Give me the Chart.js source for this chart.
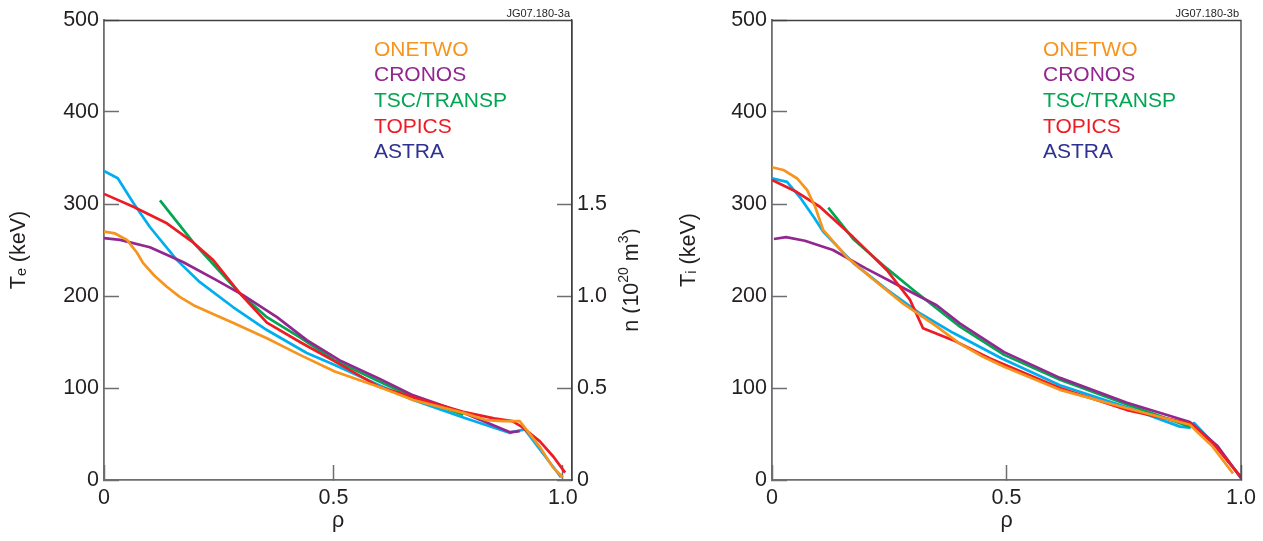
<!DOCTYPE html>
<html><head><meta charset="utf-8">
<script src="https://cdn.jsdelivr.net/npm/chart.js@4.4.1/dist/chart.umd.min.js"></script>
<style>
html,body{margin:0;padding:0;background:#fff;overflow:hidden}
#wrap{position:relative;width:1263px;height:541px;background:#fff}
canvas{position:absolute;top:0}
#c1{left:0}
#c2{left:640px}
</style></head><body>
<div id="wrap"><canvas id="c1" width="640" height="541"></canvas><canvas id="c2" width="623" height="541"></canvas></div>
<script>
// ---------- data ----------
const seriesNames = ['ONETWO', 'CRONOS', 'TSC/TRANSP', 'TOPICS', 'ASTRA'];
const xTickValues = [0, 0.5, 1.0];
const tTickValues = [0, 100, 200, 300, 400, 500];
const nTickValues = [0, 0.5, 1.0, 1.5];

// (a) electron temperature
const rhoOnetwoE = [0, 0.024, 0.05, 0.072, 0.085, 0.11, 0.137, 0.165, 0.195, 0.24, 0.281, 0.355, 0.427, 0.503, 0.6, 0.674, 0.783, 0.834, 0.87, 0.906, 0.95, 0.978, 1.0];
const teOnetwo   = [270, 268, 261, 247, 236, 222, 210, 199, 190, 180, 171, 154, 136, 118, 101, 87, 73, 65, 64, 64, 36, 14, 3];
const rhoCronosE = [0, 0.035, 0.1, 0.172, 0.246, 0.303, 0.377, 0.442, 0.514, 0.6, 0.674, 0.783, 0.885, 0.906];
const teCronos   = [263, 261, 253, 237, 217, 201, 177, 152, 130, 110, 92, 73, 52, 53];
const rhoTscE    = [0.122, 0.16, 0.195, 0.25, 0.296, 0.355, 0.427, 0.503, 0.6, 0.674, 0.783];
const teTsc      = [304, 280, 258, 228, 203, 177, 155, 130, 107, 90, 71];
const rhoTopicsE = [0, 0.064, 0.137, 0.195, 0.238, 0.296, 0.355, 0.427, 0.499, 0.601, 0.7, 0.783, 0.85, 0.89, 0.91, 0.95, 0.98, 1.005];
const teTopics   = [311, 297, 279, 258, 239, 203, 171, 150, 130, 101, 86, 74, 67, 64, 58, 42, 25, 8];
const rhoAstraE  = [0, 0.03, 0.064, 0.1, 0.159, 0.209, 0.281, 0.355, 0.442, 0.503, 0.6, 0.674, 0.783, 0.885, 0.89, 0.917, 0.996];
const teAstra    = [336, 328, 301, 275, 239, 215, 188, 163, 138, 125, 103, 87, 68, 51, 52, 55, 3];

// (b) ion temperature
const rhoOnetwoI = [0, 0.024, 0.053, 0.075, 0.092, 0.109, 0.16, 0.209, 0.279, 0.351, 0.401, 0.45, 0.495, 0.614, 0.757, 0.891, 0.94, 0.983];
const tiOnetwo   = [340, 337, 328, 315, 297, 272, 242, 221, 192, 167, 148, 134, 123, 98, 78, 60, 36, 7];
const rhoCronosI = [0.004, 0.03, 0.07, 0.13, 0.2, 0.279, 0.351, 0.401, 0.495, 0.614, 0.757, 0.891, 0.95, 1.0];
const tiCronos   = [262, 264, 260, 250, 230, 209, 190, 170, 139, 111, 84, 63, 37, 2];
const rhoTscI    = [0.12, 0.173, 0.245, 0.3, 0.4, 0.495, 0.614, 0.757, 0.891];
const tiTsc      = [296, 262, 230, 207, 167, 136, 109, 82, 58];
const rhoTopicsI = [0, 0.053, 0.102, 0.173, 0.245, 0.294, 0.322, 0.386, 0.465, 0.614, 0.757, 0.895, 0.94, 1.0];
const tiTopics   = [326, 313, 297, 264, 228, 196, 165, 152, 132, 100, 76, 61, 40, 3];
const rhoAstraI  = [0, 0.032, 0.06, 0.09, 0.109, 0.173, 0.245, 0.316, 0.386, 0.49, 0.614, 0.757, 0.87, 0.891, 0.9, 0.95, 1.0];
const tiAstra    = [328, 324, 307, 285, 270, 236, 207, 181, 160, 132, 103, 79, 58, 57, 62, 35, 3];

// ---------- styles ----------
const lineColors   = ['#f7941d', '#92278f', '#00a651', '#ed1c24', '#00aeef'];
const legendColors = ['#f7941d', '#92278f', '#00a651', '#ed1c24', '#2e3192'];
const FONT = "'Liberation Sans', Arial, Helvetica, sans-serif";
const TXT = '#231f20';
const AX = '#6d6e71';
const FS = 21.5;

function pts(xs, ys) { return xs.map((x, i) => ({x: x, y: ys[i]})); }
function makeSets(list) {
  const drawOrder = [0, 2, 3, 1, 4];
  return list.map((p, i) => ({
    label: seriesNames[i], data: p, borderColor: lineColors[i], backgroundColor: lineColors[i],
    borderWidth: 2.7, pointRadius: 0, fill: false, showLine: true, yAxisID: 'y',
    tension: 0, borderJoinStyle: 'round', borderCapStyle: 'butt', order: drawOrder[i]
  }));
}

const decor = {
  id: 'decor',
  afterDraw(chart, args, o) {
    const ctx = chart.ctx, a = chart.chartArea;
    ctx.save();
    ctx.strokeStyle = '#414042'; ctx.lineWidth = 1.3;
    ctx.beginPath();
    ctx.moveTo(a.left, a.top + 0.5); ctx.lineTo(a.right, a.top + 0.5);
    ctx.lineTo(a.right, a.bottom);
    ctx.stroke();
    ctx.fillStyle = TXT; ctx.font = '11px ' + FONT; ctx.textAlign = 'right'; ctx.textBaseline = 'middle';
    ctx.fillText(o.tag, a.right - 2, 14);
    ctx.font = '21px ' + FONT; ctx.textAlign = 'left';
    seriesNames.forEach((s, i) => { ctx.fillStyle = legendColors[i]; ctx.fillText(s, o.lx, o.ly + i * o.ldy); });
    if (o.rightTitle) {
      ctx.translate(o.rtx, o.rty); ctx.rotate(-Math.PI / 2);
      const parts = [['n (10', 0], ['20', 1], [' m', 0], ['3', 1], [')', 0]];
      const big = FS + 'px ' + FONT, small = '14px ' + FONT;
      let w = 0;
      parts.forEach(p => { ctx.font = p[1] ? small : big; w += ctx.measureText(p[0]).width; });
      let x = -w / 2;
      ctx.fillStyle = TXT; ctx.textBaseline = 'middle';
      parts.forEach(p => {
        ctx.font = p[1] ? small : big;
        ctx.fillText(p[0], x, p[1] ? -7.5 : 0);
        x += ctx.measureText(p[0]).width;
      });
    }
    ctx.restore();
  }
};

function fmtX(v) { return v === 0 ? '0' : v.toFixed(1); }
function fmtN(v) { return v === 0 ? '0' : v.toFixed(1); }
function fixV(w) { return s => { s.width = w; s.paddingTop = 0; s.paddingBottom = 0; }; }
function fixH(h) { return s => { s.height = h; s.paddingLeft = 0; s.paddingRight = 0; }; }

function baseOptions(cfg) {
  const tickFont = {family: FONT, size: FS};
  const scales = {
    x: {
      type: 'linear', position: 'bottom', min: 0, max: cfg.xmax,
      afterBuildTicks: s => { s.ticks = xTickValues.map(v => ({value: v})); },
      afterFit: fixH(61),
      ticks: {autoSkip: false, maxRotation: 0, padding: 20, font: tickFont, color: TXT, callback: fmtX},
      grid: {drawOnChartArea: false, tickLength: -15, tickWidth: 1.5, tickColor: AX},
      border: {color: AX, width: 1.8},
      title: {display: true, text: 'ρ', font: {family: FONT, size: FS}, color: TXT, padding: {top: 0, bottom: 7}}
    },
    y: {
      type: 'linear', position: 'left', min: 0, max: 500,
      afterBuildTicks: s => { s.ticks = tTickValues.map(v => ({value: v})); },
      afterFit: fixV(cfg.yw),
      ticks: {autoSkip: false, padding: 20, font: tickFont, color: TXT, callback: v => String(v)},
      grid: {drawOnChartArea: false, tickLength: -15, tickWidth: 1.5, tickColor: AX},
      border: {color: AX, width: 1.8},
      title: {display: true, text: cfg.ytitle, font: {family: FONT, size: FS}, color: TXT, padding: {top: cfg.ytp, bottom: 0}}
    }
  };
  if (cfg.right) {
    scales.y2 = {
      type: 'linear', position: 'right', min: 0, max: 2.5,
      afterBuildTicks: s => { s.ticks = nTickValues.map(v => ({value: v})); },
      afterFit: fixV(68),
      ticks: {autoSkip: false, padding: 20, font: tickFont, color: TXT, callback: fmtN},
      grid: {drawOnChartArea: false, tickLength: -15, tickWidth: 1.5, tickColor: AX},
      border: {color: '#414042', width: 1.3}
    };
  }
  return {
    responsive: false, animation: false, devicePixelRatio: 1,
    layout: {padding: {top: 20, right: cfg.padR, bottom: 0, left: 0}},
    plugins: {legend: {display: false}, tooltip: {enabled: false},
      decor: {tag: cfg.tag, lx: cfg.lx, ly: 50, ldy: 25.6, rightTitle: cfg.right, rtx: 632, rty: 280}},
    scales: scales
  };
}

new Chart(document.getElementById('c1'), {
  type: 'line',
  data: {datasets: makeSets([
    pts(rhoOnetwoE, teOnetwo), pts(rhoCronosE, teCronos), pts(rhoTscE, teTsc),
    pts(rhoTopicsE, teTopics), pts(rhoAstraE, teAstra)])},
  options: baseOptions({xmax: 1.02, yw: 104, ytitle: 'Tₑ (keV)', ytp: 6, right: true, padR: 0, tag: 'JG07.180-3a', lx: 374}),
  plugins: [decor]
});

new Chart(document.getElementById('c2'), {
  type: 'line',
  data: {datasets: makeSets([
    pts(rhoOnetwoI, tiOnetwo), pts(rhoCronosI, tiCronos), pts(rhoTscI, tiTsc),
    pts(rhoTopicsI, tiTopics), pts(rhoAstraI, tiAstra)])},
  options: baseOptions({xmax: 1.0, yw: 132, ytitle: 'Tᵢ (keV)', ytp: 36, right: false, padR: 22, tag: 'JG07.180-3b', lx: 403}),
  plugins: [decor]
});
</script>
</body></html>
